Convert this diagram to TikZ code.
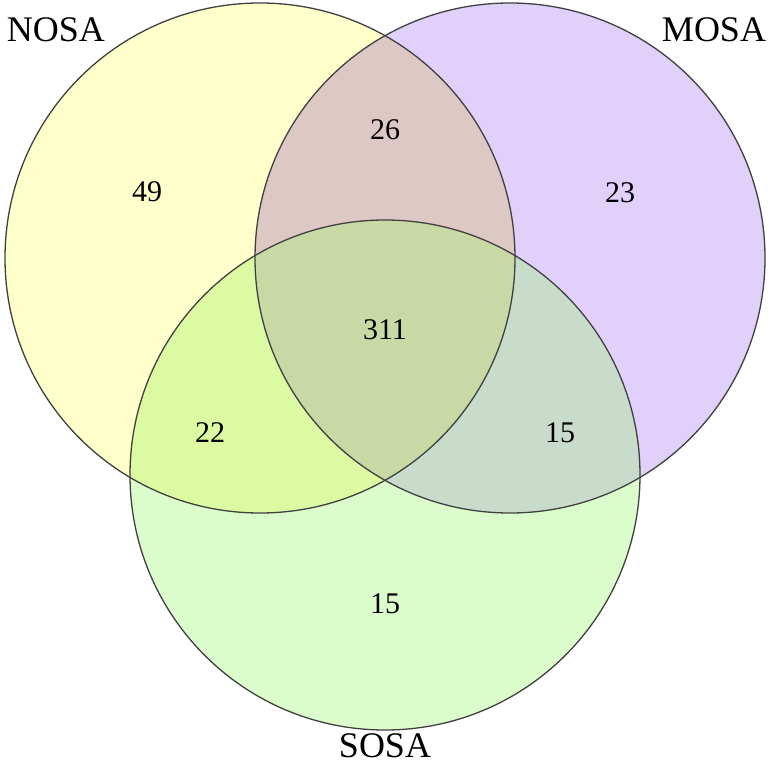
\documentclass[tikz,border=0pt]{standalone}
\usepackage{fontspec}
\setmainfont{Liberation Serif}
\definecolor{cN}{HTML}{FFFFCC}
\definecolor{cM}{HTML}{E1D0F9}
\definecolor{cS}{HTML}{DBFDCC}
\definecolor{cNM}{HTML}{DDC8C6}
\definecolor{cNS}{HTML}{DCFAA2}
\definecolor{cMS}{HTML}{C9DCCB}
\definecolor{cNMS}{HTML}{C8D9A6}
\begin{document}
\begin{tikzpicture}[x=1pt,y=-1pt,
  lbl/.style={font=\fontsize{36}{40}\selectfont},
  num/.style={font=\fontsize{30}{34}\selectfont},
  ring/.style={draw=black!75, line width=1.3pt}]
\useasboundingbox (0,0) rectangle (773,765);
\coordinate (N) at (260,258);
\coordinate (M) at (510,258);
\coordinate (S) at (385,475);
% base fills
\fill[cN] (N) circle[radius=255pt];
\fill[cM] (M) circle[radius=255pt];
\fill[cS] (S) circle[radius=255pt];
% pairwise intersections
\begin{scope}\clip (N) circle[radius=255pt]; \fill[cNM] (M) circle[radius=255pt];\end{scope}
\begin{scope}\clip (N) circle[radius=255pt]; \fill[cNS] (S) circle[radius=255pt];\end{scope}
\begin{scope}\clip (M) circle[radius=255pt]; \fill[cMS] (S) circle[radius=255pt];\end{scope}
\begin{scope}\clip (N) circle[radius=255pt]; \clip (M) circle[radius=255pt]; \fill[cNMS] (S) circle[radius=255pt];\end{scope}
% outlines
\draw[ring] (N) circle[radius=255pt];
\draw[ring] (M) circle[radius=255pt];
\draw[ring] (S) circle[radius=255pt];
% labels
\node[lbl] (lN) at (56,30) {NOSA};
\node[lbl] (lM) at (714,30) {MOSA};
\node[lbl] (lS) at (385,746) {SOSA};
% counts
\node[num] (n1) at (147,192) {49};
\node[num] (n2) at (385,130) {26};
\node[num] (n3) at (620,193) {23};
\node[num] (n4) at (385,330) {311};
\node[num] (n5) at (210,433) {22};
\node[num] (n6) at (560,433) {15};
\node[num] (n7) at (385,604) {15};
\end{tikzpicture}
\end{document}
